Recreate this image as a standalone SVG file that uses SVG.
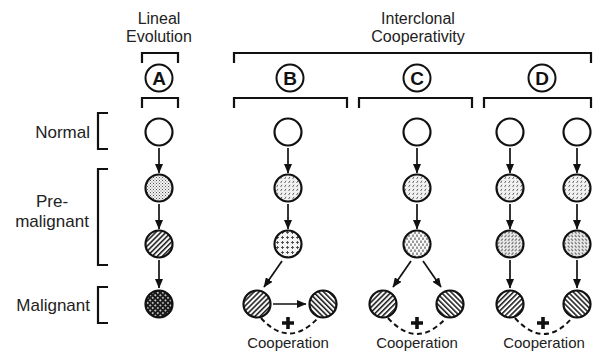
<svg xmlns="http://www.w3.org/2000/svg" width="593" height="353" viewBox="0 0 593 353">
  <style>
    .lbl { font-family: "Liberation Sans", Arial, sans-serif; font-size: 17px; fill: #222; }
    .head { font-family: "Liberation Sans", Arial, sans-serif; font-size: 16px; fill: #222; text-anchor: middle; }
    .coop { font-family: "Liberation Sans", Arial, sans-serif; font-size: 15px; fill: #222; text-anchor: middle; }
    .letter { font-family: "Liberation Sans", Arial, sans-serif; font-size: 19px; font-weight: bold; fill: #111; text-anchor: middle; }
    .brk { fill: none; stroke: #111; stroke-width: 2.2; }
    .cell { stroke: #111; stroke-width: 2.2; }
    .tag { fill: #fff; stroke: #111; stroke-width: 2; }
    .arr { stroke: #111; stroke-width: 1.7; fill: none; marker-end: url(#head); }
    .coopArc { fill: none; stroke: #111; stroke-width: 2; stroke-dasharray: 5 3.5; }
  </style>
  <defs>
    <marker id="head" markerUnits="userSpaceOnUse" markerWidth="10" markerHeight="8" refX="9" refY="4" orient="auto">
      <path d="M0,0 L9.5,4 L0,8 z" fill="#111"/>
    </marker>
    <!-- fine stipple -->
    <pattern id="stip" width="3" height="3" patternUnits="userSpaceOnUse">
      <rect width="3" height="3" fill="#f4f4f4"/>
      <rect x="0" y="0" width="1" height="1" fill="#555"/>
      <rect x="1.5" y="1.5" width="1" height="1" fill="#777"/>
    </pattern>
    <!-- short slanted dashes -->
    <pattern id="slash" width="4" height="4" patternUnits="userSpaceOnUse">
      <rect width="4" height="4" fill="#f2f2f2"/>
      <path d="M0.6,3 L2,0.8" stroke="#555" stroke-width="0.9"/>
    </pattern>
    <!-- diagonal hatching -->
    <pattern id="hatchR" width="3.6" height="3.6" patternUnits="userSpaceOnUse" patternTransform="rotate(45)">
      <rect width="3.6" height="3.6" fill="#fff"/>
      <rect x="0" y="0" width="1.6" height="3.6" fill="#222"/>
    </pattern>
    <pattern id="hatchL" width="3.6" height="3.6" patternUnits="userSpaceOnUse" patternTransform="rotate(-45)">
      <rect width="3.6" height="3.6" fill="#fff"/>
      <rect x="0" y="0" width="1.6" height="3.6" fill="#222"/>
    </pattern>
    <!-- dark with white dots -->
    <pattern id="darkDots" width="3.6" height="3.6" patternUnits="userSpaceOnUse" patternTransform="rotate(45)">
      <rect width="3.6" height="3.6" fill="#1a1a1a"/>
      <circle cx="1.8" cy="1.8" r="0.95" fill="#e8e8e8"/>
    </pattern>
    <!-- small crosses -->
    <pattern id="cross" width="5" height="5" patternUnits="userSpaceOnUse">
      <rect width="5" height="5" fill="#f4f4f4"/>
      <path d="M2.5,1 V4 M1,2.5 H4" stroke="#444" stroke-width="0.9"/>
    </pattern>
    <!-- vertical dashes -->
    <pattern id="vdash" width="4" height="6" patternUnits="userSpaceOnUse">
      <rect width="4" height="6" fill="#fafafa"/>
      <rect x="0.5" y="0.5" width="1" height="2.4" fill="#333"/>
      <rect x="2.5" y="3.5" width="1" height="2.4" fill="#333"/>
    </pattern>
    <!-- dense short dashes, two slants -->
    <pattern id="dashR" width="3.5" height="3.5" patternUnits="userSpaceOnUse">
      <rect width="3.5" height="3.5" fill="#f0f0f0"/>
      <path d="M0.5,2.8 L2.4,0.6" stroke="#444" stroke-width="0.9"/>
    </pattern>
    <pattern id="dashL" width="3.5" height="3.5" patternUnits="userSpaceOnUse">
      <rect width="3.5" height="3.5" fill="#f0f0f0"/>
      <path d="M0.6,0.6 L2.6,2.8" stroke="#444" stroke-width="0.9"/>
    </pattern>
  </defs>

  <rect width="593" height="353" fill="#fff"/>

  <!-- headings -->
  <g id="heading-lineal">
    <text class="head" x="159" y="24">Lineal</text>
    <text class="head" x="159" y="42">Evolution</text>
    <path class="brk" d="M142,63 V53 H178 V63"/>
  </g>
  <g id="heading-interclonal">
    <text class="head" x="418" y="24">Interclonal</text>
    <text class="head" x="418" y="42">Cooperativity</text>
    <path class="brk" d="M234,63 V53 H591 V63"/>
  </g>

  <!-- panel tags -->
  <g id="tag-A">
    <circle class="tag" cx="159" cy="78" r="13.5"/>
    <text class="letter" x="159" y="85">A</text>
    <path class="brk" d="M142,108 V98 H178 V108"/>
  </g>
  <g id="tag-B">
    <circle class="tag" cx="290" cy="78" r="13.5"/>
    <text class="letter" x="290" y="85">B</text>
    <path class="brk" d="M234,108 V98 H347 V108"/>
  </g>
  <g id="tag-C">
    <circle class="tag" cx="417" cy="78" r="13.5"/>
    <text class="letter" x="417" y="85">C</text>
    <path class="brk" d="M359,108 V98 H472 V108"/>
  </g>
  <g id="tag-D">
    <circle class="tag" cx="542" cy="78" r="13.5"/>
    <text class="letter" x="542" y="85">D</text>
    <path class="brk" d="M484,108 V98 H591 V108"/>
  </g>

  <!-- stage labels -->
  <g id="stage-normal">
    <text class="lbl" x="90" y="138" text-anchor="end">Normal</text>
    <path class="brk" d="M108,113 H98 V149 H108"/>
  </g>
  <g id="stage-premalignant">
    <text class="lbl" x="52" y="207" text-anchor="middle">Pre-</text>
    <text class="lbl" x="52" y="227" text-anchor="middle">malignant</text>
    <path class="brk" d="M108,169 H98 V265 H108"/>
  </g>
  <g id="stage-malignant">
    <text class="lbl" x="90" y="311" text-anchor="end">Malignant</text>
    <path class="brk" d="M108,287 H98 V323 H108"/>
  </g>

  <!-- connectors -->
  <g id="connectors">
    <!-- A -->
    <line class="arr" x1="159" y1="148" x2="159" y2="173"/>
    <line class="arr" x1="159" y1="204" x2="159" y2="229"/>
    <line class="arr" x1="159" y1="260" x2="159" y2="288"/>
    <!-- B -->
    <line class="arr" x1="288" y1="148" x2="288" y2="173"/>
    <line class="arr" x1="288" y1="204" x2="288" y2="229"/>
    <line class="arr" x1="282" y1="261" x2="264" y2="287"/>
    <line class="arr" x1="273" y1="304" x2="306" y2="304"/>
    <!-- C -->
    <line class="arr" x1="417" y1="148" x2="417" y2="173"/>
    <line class="arr" x1="417" y1="204" x2="417" y2="229"/>
    <line class="arr" x1="411" y1="261" x2="393" y2="287"/>
    <line class="arr" x1="423" y1="261" x2="441" y2="287"/>
    <!-- D -->
    <line class="arr" x1="510" y1="148" x2="510" y2="173"/>
    <line class="arr" x1="510" y1="204" x2="510" y2="229"/>
    <line class="arr" x1="510" y1="260" x2="510" y2="288"/>
    <line class="arr" x1="577" y1="148" x2="577" y2="173"/>
    <line class="arr" x1="577" y1="204" x2="577" y2="229"/>
    <line class="arr" x1="577" y1="260" x2="577" y2="288"/>
    <!-- cooperation links -->
    <path class="coopArc" d="M261,318 Q289,349 318,318"/>
    <path class="coopArc" d="M388,318 Q417,350 446,318"/>
    <path class="coopArc" d="M515,318 Q544,350 572,318"/>
  </g>

  <!-- column A cells -->
  <g id="A-normal"><circle class="cell" cx="159" cy="132" r="13.5" fill="#fff"/></g>
  <g id="A-pre1"><circle class="cell" cx="159" cy="188" r="13.5" fill="url(#stip)"/></g>
  <g id="A-pre2"><circle class="cell" cx="159" cy="244" r="13.5" fill="url(#hatchR)"/></g>
  <g id="A-malignant"><circle class="cell" cx="159" cy="304" r="13.5" fill="url(#darkDots)"/></g>

  <!-- column B cells -->
  <g id="B-normal"><circle class="cell" cx="288" cy="132" r="13.5" fill="#fff"/></g>
  <g id="B-pre1"><circle class="cell" cx="288" cy="188" r="13.5" fill="url(#slash)"/></g>
  <g id="B-pre2"><circle class="cell" cx="288" cy="244" r="13.5" fill="url(#cross)"/></g>
  <g id="B-malignant1"><circle class="cell" cx="257" cy="304" r="13.5" fill="url(#hatchR)"/></g>
  <g id="B-malignant2"><circle class="cell" cx="323" cy="304" r="13.5" fill="url(#hatchL)"/></g>

  <!-- column C cells -->
  <g id="C-normal"><circle class="cell" cx="417" cy="132" r="13.5" fill="#fff"/></g>
  <g id="C-pre1"><circle class="cell" cx="417" cy="188" r="13.5" fill="url(#slash)"/></g>
  <g id="C-pre2"><circle class="cell" cx="417" cy="244" r="13.5" fill="url(#vdash)"/></g>
  <g id="C-malignant1"><circle class="cell" cx="383" cy="304" r="13.5" fill="url(#hatchR)"/></g>
  <g id="C-malignant2"><circle class="cell" cx="450" cy="304" r="13.5" fill="url(#hatchL)"/></g>

  <!-- column D cells -->
  <g id="D-normal1"><circle class="cell" cx="510" cy="132" r="13.5" fill="#fff"/></g>
  <g id="D-pre1a"><circle class="cell" cx="510" cy="188" r="13.5" fill="url(#slash)"/></g>
  <g id="D-pre2a"><circle class="cell" cx="510" cy="244" r="13.5" fill="url(#dashR)"/></g>
  <g id="D-malignant1"><circle class="cell" cx="510" cy="304" r="13.5" fill="url(#hatchR)"/></g>
  <g id="D-normal2"><circle class="cell" cx="577" cy="132" r="13.5" fill="#fff"/></g>
  <g id="D-pre1b"><circle class="cell" cx="577" cy="188" r="13.5" fill="url(#slash)"/></g>
  <g id="D-pre2b"><circle class="cell" cx="577" cy="244" r="13.5" fill="url(#dashL)"/></g>
  <g id="D-malignant2"><circle class="cell" cx="577" cy="304" r="13.5" fill="url(#hatchL)"/></g>

  <!-- cooperation marks -->
  <g id="coop-B">
    <path d="M282,321.2 H294 V324.8 H282 Z M286.2,317 H289.8 V329 H286.2 Z" fill="#111"/>
    <text class="coop" x="288" y="348">Cooperation</text>
  </g>
  <g id="coop-C">
    <path d="M411,321.2 H423 V324.8 H411 Z M415.2,317 H418.8 V329 H415.2 Z" fill="#111"/>
    <text class="coop" x="417" y="348">Cooperation</text>
  </g>
  <g id="coop-D">
    <path d="M537,321.2 H549 V324.8 H537 Z M541.2,317 H544.8 V329 H541.2 Z" fill="#111"/>
    <text class="coop" x="544" y="348">Cooperation</text>
  </g>
</svg>
